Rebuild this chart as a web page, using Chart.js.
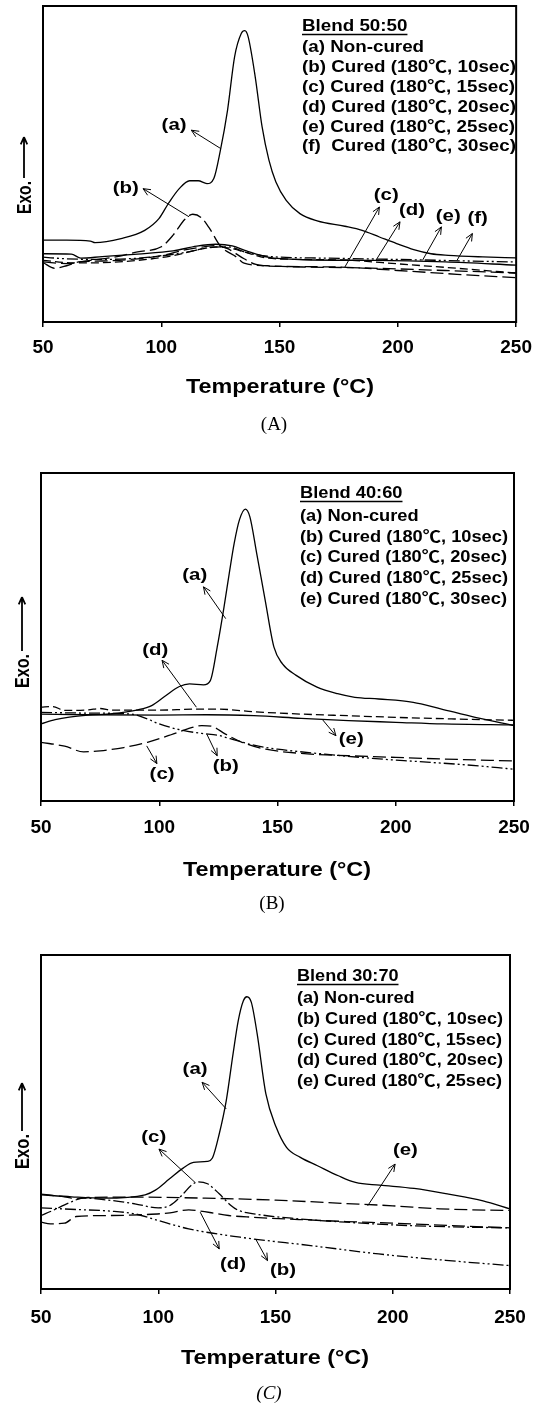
<!DOCTYPE html>
<html><head><meta charset="utf-8">
<script src="https://cdn.jsdelivr.net/npm/chart.js@4.4.0/dist/chart.umd.min.js"></script>
<style>
html,body{margin:0;padding:0;background:#fff;}
body{width:541px;height:1414px;position:relative;overflow:hidden;}
canvas{position:absolute;left:0;}
</style></head><body>
<canvas id="cA" width="541" height="440" style="top:0px"></canvas>
<canvas id="cB" width="541" height="480" style="top:440px"></canvas>
<canvas id="cC" width="541" height="494" style="top:920px"></canvas>
<script>
// ---------- tick labels ----------
const xTicks = [50, 100, 150, 200, 250];

// ---------- Panel A : Blend 50:50 ----------
const A_a_T = [50,60,70,72,83,93,99,103,107.6,112,115.6,119.3,122.2,125,128,131,133.8,135.3,136.7,139.7,142.6,145.5,148.4,152.8,158.6,165.9,177.6,184.9,192.2,199.5,206.7,214,221.3,235.9,250];
const A_a_V = [25.9,25.9,25.6,25.1,26.4,29.0,32.7,37.5,42.2,44.7,44.7,43.8,45.4,54.4,67,84,91.3,92.2,90.3,77.6,61.8,51.2,44.4,38.5,34.3,32,30.3,29,26.9,24.8,22.9,21.6,21.1,20.6,20.3];
const A_b_T = [50,60,70,80,90,100,105,110,113.3,116.8,120.4,125,131.7,135,145,160,180,200,220,250];
const A_b_V = [19.0,18.5,19.5,20.5,22.2,23.8,27.5,32.5,34.1,33.1,29.6,24,20.6,18.6,17.8,17.4,17.2,16.8,16.3,15.5];
const A_c_T = [50,55,60,65,75,90,100,110,118,123,128,135,140,150,175,200,225,250];
const A_c_V = [18.8,17.0,17.8,19.0,19.3,20.0,21.0,22.8,23.8,24.2,23.2,20.0,18.2,17.6,17.4,16.3,15.1,14.0];
const A_d_T = [50,60,70,90,105,115,123,130,138,145,160,180,200,225,250];
const A_d_V = [19.5,18.8,18.7,19.5,21.0,22.8,23.8,23.2,21.5,20.2,19.8,19.5,18.4,17.0,15.5];
const A_e_T = [50,62,66,75,90,105,115,123,130,136,145,160,190,220,250];
const A_e_V = [21.6,21.5,20.2,20.7,21.5,22.5,24.0,24.6,24.1,22.5,20.5,19.7,19.5,19.0,18.0];
const A_f_T = [50,60,75,95,110,120,128,136,145,170,200,230,250];
const A_f_V = [20.5,20.0,19.8,20.5,22.0,23.5,23.8,22.0,20.8,20.2,19.8,19.3,19.0];
const A_title = "Blend 50:50";
const A_legend = ["(a) Non-cured","(b) Cured (180\u2103, 10sec)","(c) Cured (180\u2103, 15sec)","(d) Cured (180\u2103, 20sec)","(e) Cured (180\u2103, 25sec)","(f)  Cured (180\u2103, 30sec)"];

// ---------- Panel B : Blend 40:60 ----------
const B_a_T = [50,56,62,70,80,91,96.8,102.7,108.5,112.8,118.7,121.6,124.5,127.4,129.6,131.7,133.9,136.4,138.3,141.2,144.8,148.5,152.1,157.9,166.7,175.4,182.7,192.8,207.4,219,233.6,250];
const B_a_V = [23.5,24.8,25.6,26.2,26.6,27.8,29.1,32.1,34.9,35.7,35.4,36.7,46.9,59.2,69.4,78.6,85.7,89,86.7,75.5,61.2,46.9,41.8,38.3,34.7,32.7,31.6,31.1,30.1,28.1,25.5,23.0];
const B_b_T = [50,70,88,95,100,110,118,125,130,140,150,170,190,210,230,250];
const B_b_V = [27.0,26.8,26.5,25.0,23.5,21.5,20.6,20.0,19.0,17.0,15.8,14.3,13.0,12.0,11.0,9.7];
const B_c_T = [50,60,68,75,85,95,105,112,118,122,128,135,145,160,180,200,220,250];
const B_c_V = [17.9,16.7,15.0,15.3,16.3,17.9,20.2,22.0,23.0,22.8,20.4,17.9,15.8,14.5,13.8,13.3,12.8,12.2];
const B_d_T = [50,55,60,70,75,80,100,115,125,140,160,180,200,225,250];
const B_d_V = [28.6,28.8,27.6,27.8,28.2,27.7,27.7,28.0,28.0,27.2,26.5,26.0,25.5,25.0,24.6];
const B_e_T = [50,70,100,120,140,160,180,200,220,250];
const B_e_V = [26.5,26.3,26.2,26.3,26.0,25.2,24.5,24.0,23.5,23.2];
const B_title = "Blend 40:60";
const B_legend = ["(a) Non-cured","(b) Cured (180\u2103, 10sec)","(c) Cured (180\u2103, 20sec)","(d) Cured (180\u2103, 25sec)","(e) Cured (180\u2103, 30sec)"];

// ---------- Panel C : Blend 30:70 ----------
const C_a_T = [50,63,76.8,94.4,98.8,104.7,110.6,115,120.9,123.1,126,129,131.9,134.1,136.3,137.8,139.7,142.2,145.9,150.3,154.7,160.6,167.9,176.8,184.1,194.4,209.1,223.8,238.5,250];
const C_a_V = [28.2,27.6,27.2,28.2,29.6,32.9,36.2,37.9,38.2,39.2,46.4,56.4,70.4,80.3,86.3,87.5,85.8,76.3,58.4,48.4,42.4,39.4,36.9,33.9,31.9,31.1,30.1,28.4,26.4,24.0];
const C_b_T = [50,65,80,90,100,113,135,165,194,224,250];
const C_b_V = [24.3,23.8,23.3,22.5,20.5,18.0,15.5,13.0,10.5,8.5,7.0];
const C_c_T = [50,55,62,68,80,90,100,105,110,114,117,121,126,131,134,140,160,180,200,225,250];
const C_c_V = [22.0,23.5,25.8,27.2,26.5,25.5,24.3,25.0,28.0,31.0,32.1,31.5,28.5,25.0,23.6,22.6,21.0,20.0,19.2,18.6,18.3];
const C_d_T = [50,54,60,65,80,95,105,113,118,122,130,140,160,180,200,225,250];
const C_d_V = [20.0,19.5,19.7,21.7,22.0,22.3,22.8,23.7,23.3,22.9,22.0,21.5,20.8,20.2,19.7,19.0,18.3];
const C_e_T = [50,60,65,70,90,120,150,180,200,220,250];
const C_e_V = [28.4,27.6,27.0,27.4,27.5,27.2,26.6,25.6,24.9,24.0,23.5];
const C_title = "Blend 30:70";
const C_legend = ["(a) Non-cured","(b) Cured (180\u2103, 10sec)","(c) Cured (180\u2103, 15sec)","(d) Cured (180\u2103, 20sec)","(e) Cured (180\u2103, 25sec)"];

const xTitle = "Temperature (\u00B0C)";
const yTitle = "Exo.";

// ---------- styles ----------
const SOLID = [], LDASH = [13,5], DASH = [8,4], DDOT = [11,3,2,3], DDDOT = [11,3,2,3,2,3];

// annotation call-outs (label position, arrow tail, arrow head) in data units
const A_notes = [
  {t:"(a)", l:[105.4,62.3], s:[125.1,54.9], h:[112.7,60.7]},
  {t:"(b)", l:[85,42.2],   s:[111.7,33.3], h:[92.3,42.2]},
  {t:"(c)", l:[195.1,40.1], s:[177.6,17.4], h:[192.2,36.4]},
  {t:"(d)", l:[206,35.4],  s:[190.7,19.5], h:[200.9,31.7]},
  {t:"(e)", l:[221.3,33.3], s:[210.4,19.5], h:[218.4,30.1]},
  {t:"(f)", l:[233.7,32.7], s:[225,19.5],  h:[231.5,28]}
];
const B_notes = [
  {t:"(a)", l:[115,68.9], s:[128.1,55.6], h:[118.7,65.3]},
  {t:"(d)", l:[98.3,45.9], s:[115.7,28.6], h:[101.2,42.9]},
  {t:"(e)", l:[181.2,18.9], s:[168.8,25], h:[174.7,19.9]},
  {t:"(c)", l:[101.2,8.2], s:[94.7,16.8], h:[99,11.4]},
  {t:"(b)", l:[128.1,10.7], s:[120.1,20.4], h:[124.5,13.8]}
];
const C_notes = [
  {t:"(a)", l:[115.7,65.9], s:[129,53.9], h:[118.7,61.9]},
  {t:"(c)", l:[98.1,45.5], s:[115.7,31.9], h:[100.3,41.9]},
  {t:"(e)", l:[205.4,41.4], s:[189.3,24.9], h:[201,37.4]},
  {t:"(d)", l:[131.9,7.5], s:[117.9,23], h:[126,12]},
  {t:"(b)", l:[153.2,5.5], s:[141.5,15], h:[146.6,8.5]}
];

const SANS = '"Liberation Sans", Arial, "Noto Sans CJK SC", sans-serif';

function series(T, V, dash) {
  return {
    data: T.map((t, i) => ({x: t, y: V[i]})),
    borderColor: '#000', borderWidth: 1.3, borderDash: dash,
    pointRadius: 0, fill: false, tension: 0.4, cubicInterpolationMode: 'monotone'
  };
}

function drawText(ctx, s, x, y, font, align, sx) {
  ctx.save();
  ctx.font = font; ctx.textBaseline = 'middle'; ctx.textAlign = align || 'left';
  ctx.translate(x, y); ctx.scale(sx || 1, 1);
  ctx.fillStyle = '#000';
  ctx.fillText(s, 0, 0);
  ctx.restore();
}

function arrow(ctx, x0, y0, x1, y1, len) {
  const a = Math.atan2(y1 - y0, x1 - x0);
  ctx.beginPath();
  ctx.moveTo(x0, y0); ctx.lineTo(x1, y1);
  for (const s of [-1, 1]) {
    ctx.moveTo(x1, y1);
    ctx.lineTo(x1 - len * Math.cos(a + s * 0.42), y1 - len * Math.sin(a + s * 0.42));
  }
  ctx.stroke();
}

function makePanel(id, g) {
  const deco = {
    id: 'deco' + id,
    afterDraw(chart) {
      const ctx = chart.ctx, ca = chart.chartArea;
      const xs = chart.scales.x, ys = chart.scales.y;
      ctx.save();
      ctx.strokeStyle = '#000'; ctx.fillStyle = '#000';
      // frame
      ctx.lineWidth = 2;
      ctx.strokeRect(ca.left, ca.top, ca.right - ca.left, ca.bottom - ca.top);
      // legend block
      const lf = 'bold ' + g.legFont + 'px ' + SANS;
      ctx.font = lf;
      let wmax = 0;
      g.legend.forEach(s => { wmax = Math.max(wmax, ctx.measureText(s).width); });
      const sx = g.legW / wmax;
      drawText(ctx, g.title, g.legX, g.legY0, lf, 'left', sx);
      const tw = ctx.measureText(g.title).width * sx;
      ctx.lineWidth = 1.5;
      ctx.beginPath(); ctx.moveTo(g.legX, g.legY0 + 8); ctx.lineTo(g.legX + tw, g.legY0 + 8); ctx.stroke();
      g.legend.forEach((s, i) => drawText(ctx, s, g.legX, g.legY1 + i * g.legDy, lf, 'left', sx));
      // call-outs
      ctx.lineWidth = 1;
      g.notes.forEach(n => {
        drawText(ctx, n.t, xs.getPixelForValue(n.l[0]), ys.getPixelForValue(n.l[1]), 'bold 17px ' + SANS, 'center', 1.2);
        arrow(ctx, xs.getPixelForValue(n.s[0]), ys.getPixelForValue(n.s[1]),
                   xs.getPixelForValue(n.h[0]), ys.getPixelForValue(n.h[1]), 8);
      });
      // y title (rotated) with arrow
      ctx.save();
      ctx.translate(g.yX, g.yBase);
      ctx.rotate(-Math.PI / 2);
      ctx.font = 'bold 21px ' + SANS;
      const ew = ctx.measureText(yTitle).width;
      const esx = g.yLen / ew;
      ctx.save(); ctx.scale(esx, 1); ctx.textBaseline = 'middle'; ctx.fillText(yTitle, 0, 1); ctx.restore();
      ctx.lineWidth = 1.8;
      arrow(ctx, g.yLen + 3, 0, g.yHead, 0, 8);
      ctx.restore();
      // x title
      const xf = 'bold 21px ' + SANS;
      ctx.font = xf;
      drawText(ctx, xTitle, g.xtX, g.xtY, xf, 'center', g.xtW / ctx.measureText(xTitle).width);
      // caption
      drawText(ctx, g.cap, g.capX, g.capY, g.capFont, 'center', 1);
      ctx.restore();
    }
  };
  const canvas = document.getElementById(id);
  const H = canvas.height, W = canvas.width;
  new Chart(canvas, {
    type: 'line',
    data: { datasets: g.sets },
    options: {
      responsive: false, animation: false, devicePixelRatio: 1,
      layout: { padding: { left: g.L, top: g.T, right: W - g.R, bottom: 0 } },
      plugins: { legend: { display: false }, tooltip: { enabled: false } },
      scales: {
        x: {
          type: 'linear', min: 50, max: 250,
          afterBuildTicks: s => { s.ticks = xTicks.map(v => ({ value: v })); },
          afterFit: s => { s.height = H - g.B; },
          ticks: { font: { family: SANS, size: 19, weight: 'bold' }, color: '#000', padding: g.tickPad, maxRotation: 0, autoSkip: false },
          grid: { display: true, drawOnChartArea: false, drawTicks: true, tickLength: 5, color: '#000', lineWidth: 1.5 },
          border: { display: false }
        },
        y: { display: false, min: 0, max: 100 }
      }
    },
    plugins: [deco]
  });
}

makePanel('cA', {
  L: 43, T: 6, R: 517, B: 322, tickPad: 9,
  sets: [series(A_a_T, A_a_V, SOLID), series(A_b_T, A_b_V, LDASH), series(A_c_T, A_c_V, LDASH),
         series(A_d_T, A_d_V, DASH), series(A_e_T, A_e_V, SOLID), series(A_f_T, A_f_V, DDDOT)],
  title: A_title, legend: A_legend, legX: 302, legY0: 26.5, legY1: 47.5, legDy: 19.9, legW: 214, legFont: 16,
  notes: A_notes,
  yX: 24, yBase: 214, yLen: 33, yHead: 77,
  xtX: 280, xtY: 387, xtW: 188,
  cap: '(A)', capX: 274, capY: 425, capFont: '19px "Liberation Serif", serif'
});
makePanel('cB', {
  L: 41, T: 33, R: 514, B: 361, tickPad: 10,
  sets: [series(B_a_T, B_a_V, SOLID), series(B_b_T, B_b_V, DDDOT), series(B_c_T, B_c_V, LDASH),
         series(B_d_T, B_d_V, DASH), series(B_e_T, B_e_V, SOLID)],
  title: B_title, legend: B_legend, legX: 300, legY0: 53.5, legY1: 76.5, legDy: 20.7, legW: 208, legFont: 16,
  notes: B_notes,
  yX: 22, yBase: 248, yLen: 34, yHead: 91,
  xtX: 277, xtY: 430, xtW: 188,
  cap: '(B)', capX: 272, capY: 464, capFont: '19px "Liberation Serif", serif'
});
makePanel('cC', {
  L: 41, T: 35, R: 510, B: 369, tickPad: 12,
  sets: [series(C_a_T, C_a_V, SOLID), series(C_b_T, C_b_V, DDDOT), series(C_c_T, C_c_V, DDOT),
         series(C_d_T, C_d_V, LDASH), series(C_e_T, C_e_V, LDASH)],
  title: C_title, legend: C_legend, legX: 297, legY0: 56.5, legY1: 78.5, legDy: 20.8, legW: 206, legFont: 16,
  notes: C_notes,
  yX: 22, yBase: 249, yLen: 35, yHead: 86,
  xtX: 275, xtY: 438, xtW: 188,
  cap: '(C)', capX: 269, capY: 474, capFont: 'italic 19px "Liberation Serif", serif'
});
</script>
</body></html>
